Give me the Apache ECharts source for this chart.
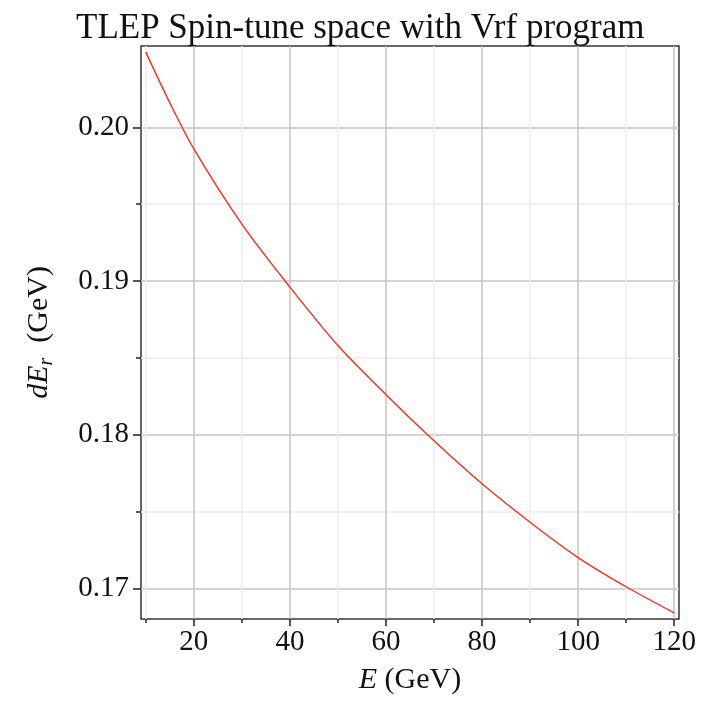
<!DOCTYPE html>
<html lang="en">
  <head>
    <meta charset="utf-8" />
    <title>TLEP Spin-tune space</title>
    <script src="https://cdn.jsdelivr.net/npm/echarts@6/dist/echarts.min.js"></script>
    <style>
      html, body { margin: 0; padding: 0; background: #fff; }
      #main { width: 701px; height: 701px; }
    </style>
  </head>
  <body>
    <div id="main"></div>
    <script>
      // energy E (GeV) and dE_r (GeV)
      var energy = [10, 15, 20, 30, 40, 50, 60, 70, 80, 90, 100, 110, 120];
      var dEr = [0.2049, 0.2016, 0.1986, 0.1937, 0.1896, 0.1858, 0.1826,
                 0.1796, 0.1768, 0.1743, 0.1720, 0.1701, 0.1684];

      var xMajor = [20, 40, 60, 80, 100, 120];
      var xMinor = [10, 30, 50, 70, 90, 110];
      var yMajor = [0.17, 0.18, 0.19, 0.20];
      var yMinor = [0.175, 0.185, 0.195];

      var font = "Liberation Serif";
      var ink = "#111";

      var points = energy.map(function (e, i) { return [e, dEr[i]]; });

      var chart = echarts.init(document.getElementById("main"));

      chart.setOption({
        animation: false,
        title: {
          text: "TLEP Spin-tune space with Vrf program",
          left: 71,
          top: 6,
          textStyle: { fontFamily: font, fontSize: 35, fontWeight: "normal", color: ink }
        },
        grid: {
          left: 141, right: 22, top: 46, bottom: 82,
          show: true, borderColor: "#333", borderWidth: 1.5
        },
        xAxis: [
          {
            type: "value", min: 9, max: 121,
            name: "{i|E} (GeV)",
            nameLocation: "middle",
            nameGap: 46,
            nameTextStyle: {
              fontFamily: font, fontSize: 30, color: ink,
              rich: { i: { fontFamily: font, fontSize: 30, fontStyle: "italic", color: ink } }
            },
            axisLine: { show: false },
            axisTick: { show: true, customValues: xMajor, length: 7, lineStyle: { color: "#222", width: 1.5 } },
            axisLabel: {
              customValues: xMajor, margin: 9,
              fontFamily: font, fontSize: 29, color: ink
            },
            splitLine: { show: true, lineStyle: { color: "#c4c4c4", width: 1.5 } }
          },
          {
            type: "value", min: 9, max: 121, position: "bottom",
            axisLine: { show: false },
            axisTick: { show: true, customValues: xMinor, length: 4, lineStyle: { color: "#222", width: 1.5 } },
            axisLabel: { show: false },
            splitLine: { show: true, lineStyle: { color: "#ececec", width: 1.5 } }
          }
        ],
        yAxis: [
          {
            type: "value", min: 0.168, max: 0.2053,
            name: "{i|dE}{s|r}  (GeV)",
            nameLocation: "middle",
            nameRotate: 90,
            nameGap: 84,
            nameTextStyle: {
              fontFamily: font, fontSize: 30, color: ink, lineHeight: 36,
              rich: {
                i: { fontFamily: font, fontSize: 30, fontStyle: "italic", color: ink, lineHeight: 36 },
                s: { fontFamily: font, fontSize: 20, fontStyle: "italic", color: ink, lineHeight: 36, verticalAlign: "bottom" }
              }
            },
            axisLine: { show: false },
            axisTick: { show: true, customValues: yMajor, length: 8, lineStyle: { color: "#222", width: 1.5 } },
            axisLabel: {
              customValues: yMajor, margin: 12,
              fontFamily: font, fontSize: 29, color: ink,
              formatter: function (v) { return v.toFixed(2); }
            },
            splitLine: { show: true, lineStyle: { color: "#c4c4c4", width: 1.5 } }
          },
          {
            type: "value", min: 0.168, max: 0.2053, position: "left",
            axisLine: { show: false },
            axisTick: { show: true, customValues: yMinor, length: 5, lineStyle: { color: "#222", width: 1.5 } },
            axisLabel: { show: false },
            splitLine: { show: true, lineStyle: { color: "#ececec", width: 1.5 } }
          }
        ],
        series: [
          {
            type: "line",
            xAxisIndex: 0,
            yAxisIndex: 0,
            data: points,
            smooth: 0.3,
            showSymbol: false,
            lineStyle: { color: "#ff2a1a", width: 1.4 }
          }
        ]
      });
    </script>
  </body>
</html>
